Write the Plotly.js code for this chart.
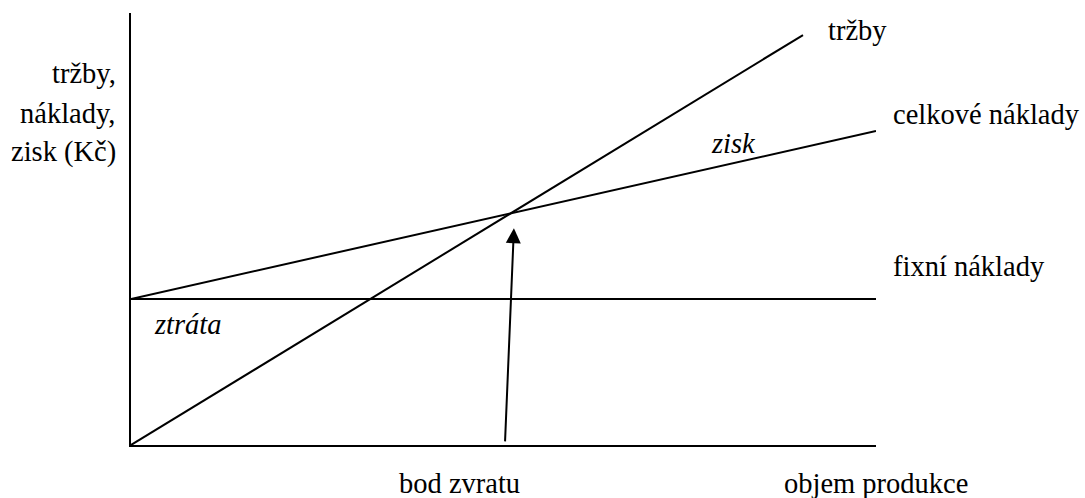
<!DOCTYPE html>
<html>
<head>
<meta charset="utf-8">
<script src="https://cdn.plot.ly/plotly-3.0.1.min.js"></script>
<style>
html,body{margin:0;padding:0;background:#fff;}
#chart{width:1085px;height:498px;}
</style>
</head>
<body>
<div id="chart"></div>
<script>
// Break-even chart data (arbitrary units: x = objem produkce, y = Kč)
const trzbyX = [0, 90.2];
const trzbyY = [0, 94.9];
const celkoveX = [0, 100];
const celkoveY = [33.8, 72.7];
const fixniX = [0, 100];
const fixniY = [33.8, 33.8];
// bod zvratu arrow: from [x0,y0] to [x1,y1]
const arrowFrom = [50.2, 0.5];
const arrowTo = [51.4, 50.2];

const labels = {
  yTitle: ['tržby,', 'náklady,', 'zisk (Kč)'],
  trzby: 'tržby',
  celkove: 'celkové náklady',
  fixni: 'fixní náklady',
  zisk: 'zisk',
  ztrata: 'ztráta',
  bod: 'bod zvratu',
  objem: 'objem produkce'
};

const W = 1085, H = 498;
const L = 131, R = 876, T = 13, B = 445;
const px = v => (v - L) / (R - L);
const py = v => (B - v) / (B - T);

const FONT = '"Liberation Serif", "Times New Roman", serif';
const FS = 28.5;

const lineStyle = {color: '#000', width: 2};
const traces = [
  {x: trzbyX, y: trzbyY, mode: 'lines', line: lineStyle, hoverinfo: 'skip'},
  {x: celkoveX, y: celkoveY, mode: 'lines', line: lineStyle, hoverinfo: 'skip'},
  {x: fixniX, y: fixniY, mode: 'lines', line: lineStyle, hoverinfo: 'skip'}
];

function txt(text, x, y, xanchor, italic) {
  return {
    text: text, xref: 'paper', yref: 'paper', x: px(x), y: py(y),
    xanchor: xanchor, yanchor: 'middle', showarrow: false,
    font: {family: FONT, size: FS, color: '#000', style: italic ? 'italic' : 'normal'}
  };
}

const annotations = [
  txt(labels.yTitle[0], 118, 73.5, 'right'),
  txt(labels.yTitle[1], 118, 113, 'right'),
  txt(labels.yTitle[2], 118, 151.5, 'right'),
  txt(labels.trzby, 826, 31, 'left'),
  txt(labels.celkove, 891, 114, 'left'),
  txt(labels.fixni, 891, 266, 'left'),
  txt(labels.zisk, 709, 143, 'left', true),
  txt(labels.ztrata, 152, 324, 'left', true),
  txt(labels.bod, 397, 484, 'left'),
  txt(labels.objem, 782, 483, 'left'),
  {
    x: arrowTo[0], y: arrowTo[1], ax: arrowFrom[0], ay: arrowFrom[1],
    xref: 'x', yref: 'y', axref: 'x', ayref: 'y',
    text: '', showarrow: true, arrowhead: 2, arrowsize: 1.5, arrowwidth: 2,
    arrowcolor: '#000', standoff: 0
  }
];

const layout = {
  width: W, height: H,
  margin: {l: L, r: W - R, t: T, b: H - B, pad: 0},
  paper_bgcolor: '#fff', plot_bgcolor: '#fff',
  showlegend: false,
  font: {family: FONT},
  xaxis: {range: [0, 100], showgrid: false, zeroline: false, showticklabels: false,
          ticks: '', showline: true, linecolor: '#000', linewidth: 2, fixedrange: true},
  yaxis: {range: [0, 100], showgrid: false, zeroline: false, showticklabels: false,
          ticks: '', showline: true, linecolor: '#000', linewidth: 2, fixedrange: true},
  annotations: annotations
};

Plotly.newPlot('chart', traces, layout, {staticPlot: true, displayModeBar: false});
</script>
</body>
</html>
